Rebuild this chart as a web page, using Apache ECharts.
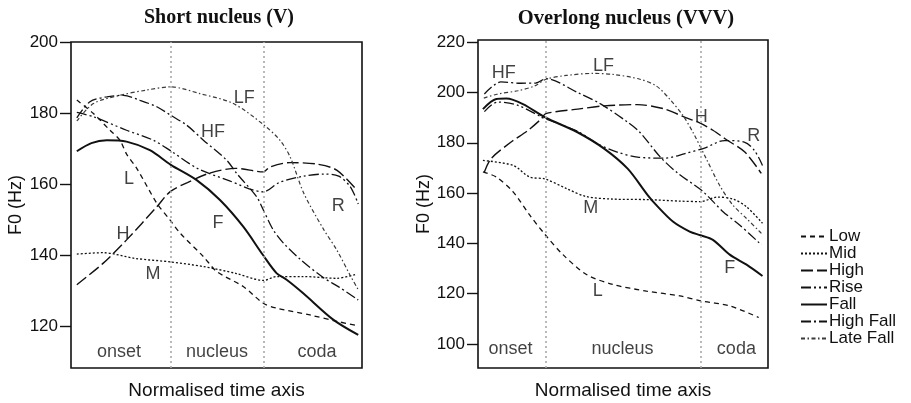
<!DOCTYPE html>
<html>
<head>
<meta charset="utf-8">
<script src="https://cdn.jsdelivr.net/npm/echarts@6/dist/echarts.min.js"></script>
<style>
html,body{margin:0;padding:0;background:#fff;}
#c{width:911px;height:403px;}
</style>
</head>
<body>
<div id="c"></div>
<script>
// ---- Data (x = normalised time, 0..100 ; y = F0 in Hz) ----
const seriesNames = ['Low', 'Mid', 'High', 'Rise', 'Fall', 'High Fall', 'Late Fall'];
const panelTitles = ['Short nucleus (V)', 'Overlong nucleus (VVV)'];
const yTicksShort = [120, 140, 160, 180, 200];
const yTicksLong = [100, 120, 140, 160, 180, 200, 220];
const segmentNames = ['onset', 'nucleus', 'coda'];
const boundariesShort = [34.3, 66.4];
const boundariesLong = [23.2, 76.7];

// Short nucleus (V)
const shortLow = [[2,183.7],[7.7,179.9],[13.4,175.2],[16.8,172.4],[19.1,168.5],[22.6,164.5],[29.5,154.7],[34.0,150.0],[37.5,146.3],[45.5,139.7],[50.1,135.5],[59.2,131.3],[66.1,126.6],[70.7,125.2],[82.1,123.3],[91.3,121.5],[98.7,120.3]];
const shortMid = [[2,140.4],[11,140.8],[22,139.2],[34.3,138.2],[45.5,136.9],[56.6,135.0],[66.1,133.0],[70.7,134.1],[79.8,134.1],[91.3,133.6],[98.2,134.8]];
const shortHigh = [[2,131.8],[11,137.8],[19.1,144.4],[29.5,153.7],[34,157.9],[40,160.5],[47.4,163.1],[56.6,164.5],[66.1,163.5],[68.4,164.9],[75.3,166.1],[84.4,165.7],[91.3,164.0],[98.2,158.4]];
const shortRise = [[2,180.2],[7.7,179],[19.1,175.2],[28.3,172.4],[34.3,169.4],[43.4,164.5],[53.8,161.2],[66.1,157.9],[71.5,160.5],[80,162.3],[87,162.9],[92,162.3],[96,159.3],[98.7,154.5]];
const shortFall = [[2,169.3],[7,171.6],[12.3,172.4],[19.1,172.0],[27.1,169.6],[34.3,165.5],[43.2,161.2],[51.2,155.6],[59.2,148.1],[66.1,140.0],[70.7,135.0],[74.1,133.2],[79.8,129.4],[90.1,122.0],[98.7,117.7]];
const shortHighFall = [[2,178.7],[6.5,183.2],[12.3,184.6],[18.0,185.0],[23.7,183.6],[29.5,181.8],[34.3,179.4],[39.8,176.6],[45.5,172.4],[53.5,166.8],[56.9,163.1],[63.8,156.5],[66.1,152.8],[69.5,147.2],[73,143.5],[78.7,139.0],[86.7,133.8],[92,131.2],[98.7,127.5]];
const shortLateFall = [[2,177.8],[7.7,182.7],[16.7,185.0],[26.0,186.5],[34.3,187.4],[44.3,185.5],[55.8,182.7],[66.4,176.6],[71.8,172.4],[75.3,167.7],[80,157.5],[86.7,147.5],[91.3,141.6],[95.9,134.5],[98.7,130.4]];

// Overlong nucleus (VVV)
const longLow = [[1.7,168.4],[6.3,166.4],[12.1,160.5],[17.8,151.3],[23.2,143.4],[29.3,135.5],[37.4,127.6],[46.6,123.6],[58.1,121.0],[69.6,119.1],[76.7,117.1],[86.8,115.1],[96.8,110.5]];
const longMid = [[1.7,173],[12.1,171],[17.8,166.4],[23.2,165.6],[30.5,161.8],[37.4,158.6],[46.6,157.6],[58.1,157.4],[69.6,156.8],[76.7,156.6],[82.5,158.4],[88,157.6],[92.6,154.5],[98.1,148]];
const longHigh = [[2.2,168.4],[4.5,173.7],[11.4,180.3],[17.2,184.9],[21.8,189.5],[23.4,191.6],[34.4,193.4],[43.6,194.7],[55,195.2],[64.5,193.4],[71.4,190.1],[75.9,188.2],[81,185],[85.2,181.6],[92,176.3],[97.7,167.8]];
const longRise = [[2.2,192.4],[6.7,196.2],[13.6,195.0],[22.8,189.8],[34.3,184.6],[41.2,179.6],[48,176.3],[55,174.3],[64.5,173.9],[71.4,175.7],[78.1,177.9],[85,180.9],[91.8,180.3],[95.3,177.0],[98.1,171.0]];
const longFall = [[1.7,193.4],[6.3,197.4],[9.8,197.6],[15.5,195.4],[23.2,190.1],[34.3,184.2],[43.6,177.6],[51.6,169.7],[58.5,159.2],[61.5,155.2],[67.2,148.7],[73,144.7],[76.7,143.2],[81,141.4],[86.8,135.5],[92.6,131.5],[98.1,127.0]];
const longHighFall = [[2.2,199.4],[7.9,204.2],[14.8,203.7],[20,203.8],[23.4,205.5],[34.4,200],[42.4,195.4],[51.6,188.2],[55.8,184.2],[62.9,174.3],[69.2,167.6],[77.2,161],[84.5,152.6],[90.2,147.3],[97.7,139.4]];
const longLateFall = [[2,197.8],[6.8,199.4],[13.7,200.7],[19.5,202.6],[23.4,205.3],[30.5,206.8],[39.7,207.6],[46.6,207.2],[55.8,205.3],[61.5,202.6],[66.1,197.4],[70.7,190.8],[74.1,184.2],[78.7,173.7],[83.3,163.1],[87.9,155.2],[92.5,150],[97.1,144.7],[98.1,143.5]];

// curve labels [text, x, y]
const shortCurveLabels = [['LF',59.5,184.2],['HF',48.8,174.7],['L',19.9,161.5],['H',17.9,146.1],['M',28.2,134.8],['F',50.5,149.1],['R',91.8,153.9]];
const longCurveLabels = [['HF',8.9,207.6],['LF',43.3,210.4],['H',77.0,190.3],['R',95.1,182.8],['M',38.9,153.9],['F',86.8,130.2],['L',41.3,121.2]];
// segment label positions [x, y]
const shortSegmentPos = [[16.5,113.0],[50.2,113.0],[84.5,113.0]];
const longSegmentPos = [[11.2,97.9],[49.8,97.9],[89.1,97.9]];

// ---- Styles ----
const INK = '#111';
const FONT = 'Liberation Sans, Arial, sans-serif';
const lineStyles = {
  'Low':       {type: [5, 4], width: 1.3, color: INK},
  'Mid':       {type: [2, 2], width: 1.3, color: INK},
  'High':      {type: [12, 4], width: 1.4, color: INK},
  'Rise':      {type: [10, 3, 2, 3, 2, 3], width: 1.3, color: INK},
  'Fall':      {type: 'solid', width: 2, color: INK},
  'High Fall': {type: [10, 3, 2, 3], width: 1.3, color: INK},
  'Late Fall': {type: [4, 2.5, 1.5, 2.5], width: 1.2, color: '#3a3a3a'}
};

const panels = [
  {data: [shortLow, shortMid, shortHigh, shortRise, shortFall, shortHighFall, shortLateFall],
   ticks: yTicksShort, min: 108.4, max: 200, bounds: boundariesShort,
   curveLabels: shortCurveLabels, segPos: shortSegmentPos, yNameGap: 46,
   grid: {left: 71, top: 42, width: 291, height: 326}},
  {data: [longLow, longMid, longHigh, longRise, longFall, longHighFall, longLateFall],
   ticks: yTicksLong, min: 90.4, max: 220.9, bounds: boundariesLong,
   curveLabels: longCurveLabels, segPos: longSegmentPos, yNameGap: 45,
   grid: {left: 478, top: 40, width: 290, height: 328}}
];

const grids = [], xAxes = [], yAxes = [], series = [];
panels.forEach((p, i) => {
  grids.push(Object.assign({show: true, borderColor: INK, borderWidth: 1.6, backgroundColor: 'transparent',
    containLabel: false, outerBoundsMode: 'none'}, p.grid));
  xAxes.push({
    type: 'value', gridIndex: i, min: 0, max: 100,
    axisLine: {show: false}, axisTick: {show: false}, axisLabel: {show: false}, splitLine: {show: false},
    name: 'Normalised time axis', nameLocation: 'middle', nameGap: 13,
    nameTextStyle: {fontFamily: FONT, fontSize: 19, color: INK}
  });
  yAxes.push({
    type: 'value', gridIndex: i, min: p.min, max: p.max,
    axisLine: {show: false},
    axisTick: {show: true, inside: false, length: 11, lineStyle: {color: INK, width: 1.4}, customValues: p.ticks},
    axisLabel: {show: true, margin: 13, fontFamily: FONT, fontSize: 17, color: INK, customValues: p.ticks},
    splitLine: {show: false},
    name: 'F0 (Hz)', nameLocation: 'middle', nameGap: p.yNameGap, nameRotate: 90,
    nameTextStyle: {fontFamily: FONT, fontSize: 18, color: INK}
  });
  seriesNames.forEach((n, k) => {
    const s = {
      name: n, type: 'line', xAxisIndex: i, yAxisIndex: i,
      data: p.data[k], symbol: 'none', smooth: 0.3,
      lineStyle: lineStyles[n], itemStyle: {color: lineStyles[n].color},
      z: 3, silent: true, animation: false
    };
    if (k === 0) {
      s.markLine = {
        silent: true, symbol: 'none', label: {show: false},
        lineStyle: {color: '#a8a8a8', type: [2, 3], width: 1.6},
        data: p.bounds.map(b => ({xAxis: b}))
      };
    }
    series.push(s);
  });
  series.push({
    type: 'scatter', xAxisIndex: i, yAxisIndex: i, symbolSize: 0, silent: true, animation: false,
    data: p.curveLabels.map(c => ({value: [c[1], c[2]], name: c[0]})),
    label: {show: true, position: 'inside', formatter: '{b}', fontFamily: FONT, fontSize: 18, color: INK}
  });
  series.push({
    type: 'scatter', xAxisIndex: i, yAxisIndex: i, symbolSize: 0, silent: true, animation: false,
    data: p.segPos.map((c, j) => ({value: c, name: segmentNames[j]})),
    label: {show: true, position: 'inside', formatter: '{b}', fontFamily: FONT, fontSize: 18, color: INK}
  });
});

const chart = echarts.init(document.getElementById('c'), null, {renderer: 'canvas'});
chart.setOption({
  animation: false,
  backgroundColor: '#fff',
  title: [
    {text: panelTitles[0], left: 214, top: 3, textAlign: 'center',
     textStyle: {fontFamily: 'Liberation Serif, serif', fontWeight: 'bold', fontSize: 20, color: INK}},
    {text: panelTitles[1], left: 621, top: 3, textAlign: 'center',
     textStyle: {fontFamily: 'Liberation Serif, serif', fontWeight: 'bold', fontSize: 20.5, color: INK}}
  ],
  legend: {
    data: seriesNames, orient: 'vertical', left: 800, top: 228, padding: 0,
    itemWidth: 26, itemHeight: 12, itemGap: 0,
    itemStyle: {opacity: 0},
    textStyle: {fontFamily: FONT, fontSize: 17, lineHeight: 17, color: INK, padding: [0, 0, 0, -3]},
    selectedMode: false
  },
  grid: grids, xAxis: xAxes, yAxis: yAxes, series: series
});
</script>
</body>
</html>
